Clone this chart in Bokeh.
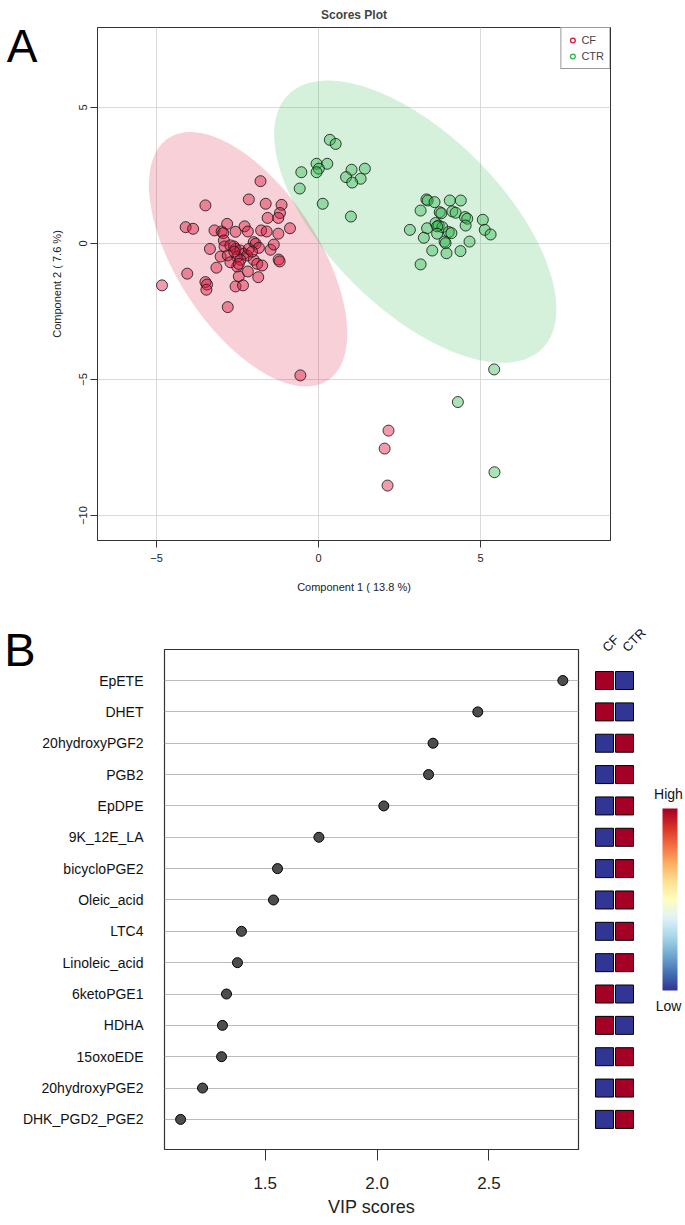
import numpy as np
from math import pi
from bokeh.plotting import figure
from bokeh.models import (Range1d, FixedTicker, Label, Legend, LegendItem, ColorBar,
                          LinearColorMapper, LinearAxis, NumeralTickFormatter)
from bokeh.layouts import column, row
from bokeh.embed import file_html
from bokeh.resources import INLINE
from bokeh.palettes import RdYlBu11

# ---------------- data: scores plot ----------------
cf_x = [-1.79, -3.49, -2.15, -1.63, -1.14, -1.19, -1.24, -1.57, -0.88, -4.10,
        -3.87, -3.21, -2.99, -2.82, -2.56, -2.28, -2.18, -1.77, -1.60, -1.24,
        -2.94, -3.35, -2.92, -2.90, -2.61, -2.00, -1.94, -1.84, -1.48, -1.38,
        -3.02, -2.80, -2.56, -2.41, -2.31, -2.51, -2.20, -2.41, -2.00, -1.89,
        -1.74, -1.23, -1.20, -3.15, -4.05, -3.49, -3.44, -3.46, -4.83, -2.51,
        -2.46, -2.18, -1.86, -2.56, -2.33, -2.80, -2.72, -2.72, -2.46, -2.15,
        -2.05, -2.60, -0.56, 2.16, 2.04, 2.13]
cf_y = [2.29, 1.40, 1.62, 1.46, 1.42, 1.12, 0.94, 0.94, 0.56, 0.60,
        0.54, 0.48, 0.44, 0.72, 0.43, 0.63, 0.44, 0.48, 0.44, 0.36,
        0.38, -0.20, 0.11, -0.11, -0.11, 0.05, -0.01, -0.16, -0.23, -0.04,
        -0.48, -0.44, -0.20, -0.26, -0.38, -0.50, -0.44, -0.60, -0.60, -0.75,
        -0.81, -0.59, -0.66, -0.89, -1.11, -1.42, -1.51, -1.70, -1.54, -0.85,
        -1.21, -1.03, -1.24, -1.58, -1.54, -2.34, -0.69, -0.07, -0.75, -0.20,
        -0.30, -0.30, -4.85, -6.88, -7.54, -8.90]
ctr_x = [0.35, 0.53, -0.06, 0.27, 0.01, -0.06, -0.53, -0.58, 1.02, 1.43,
         0.85, 1.30, 1.04, 0.13, 1.00,
         3.33, 3.37, 3.58, 4.05, 4.39, 3.15, 3.74, 3.79, 4.13, 4.23,
         4.52, 4.59, 5.07, 4.54, 2.82, 3.35, 3.61, 3.71, 3.82, 3.66,
         5.13, 5.31, 3.25, 3.66, 4.02, 4.10, 3.89, 3.92, 4.66, 3.51,
         3.95, 4.38, 3.15, 5.42, 4.30, 5.43]
ctr_y = [3.81, 3.66, 2.93, 2.93, 2.75, 2.62, 2.62, 2.02, 2.71, 2.75,
         2.44, 2.38, 2.24, 1.46, 0.99,
         1.62, 1.58, 1.52, 1.58, 1.58, 1.21, 1.15, 1.11, 1.18, 1.13,
         0.97, 0.91, 0.87, 0.66, 0.50, 0.56, 0.75, 0.66, 0.60, 0.63,
         0.50, 0.33, 0.21, 0.36, 0.42, 0.38, 0.07, 0.01, 0.07, -0.26,
         -0.36, -0.28, -0.77, -4.63, -5.83, -8.41]
x_ticks = [-5, 0, 5]
y_ticks = [-10, -5, 0, 5]

# ---------------- data: VIP scores ----------------
vip_names = ["EpETE", "DHET", "20hydroxyPGF2", "PGB2", "EpDPE", "9K_12E_LA",
             "bicycloPGE2", "Oleic_acid", "LTC4", "Linoleic_acid", "6ketoPGE1",
             "HDHA", "15oxoEDE", "20hydroxyPGE2", "DHK_PGD2_PGE2"]
vip_scores = [2.83, 2.45, 2.25, 2.23, 2.03, 1.74, 1.555, 1.537, 1.394, 1.376,
              1.327, 1.309, 1.305, 1.22, 1.122]
cf_high = [1, 1, 0, 0, 0, 0, 0, 0, 0, 0, 1, 1, 0, 0, 0]
ctr_high = [0, 0, 1, 1, 1, 1, 1, 1, 1, 1, 0, 0, 1, 1, 1]
groups = ["CF", "CTR"]
vip_ticks = [1.5, 2.0, 2.5]

FONT = "Liberation Sans"
RED = "#DC143C"
GREEN = "#2EB84C"
HI = "#A50026"
LO = "#313695"


def conf_ellipse(x, y, level=0.95, n=240):
    x = np.asarray(x, float)
    y = np.asarray(y, float)
    cov = np.cov(x, y)
    vals, vecs = np.linalg.eigh(cov)
    chi2 = -2.0 * np.log(1.0 - level)
    t = np.linspace(0, 2 * np.pi, n)
    circ = np.vstack([np.cos(t), np.sin(t)])
    pts = vecs @ (np.sqrt(vals * chi2)[:, None] * circ)
    return x.mean() + pts[0], y.mean() + pts[1]


def letter_axis(text, tick, size, standoff):
    ax = LinearAxis(ticker=FixedTicker(ticks=[tick]),
                    major_label_overrides={tick: text})
    ax.axis_line_color = None
    ax.major_tick_line_color = None
    ax.minor_tick_line_color = None
    ax.major_tick_in = 0
    ax.major_tick_out = 0
    ax.major_label_standoff = standoff
    ax.major_label_text_font = FONT
    ax.major_label_text_font_size = size
    ax.major_label_text_color = "black"
    return ax


# ---------------- panel A ----------------
xr1 = Range1d(-6.82, 9.01)
yr1 = Range1d(-10.92, 7.94)
p1 = figure(frame_width=513, frame_height=513, min_border_left=97, min_border_right=75,
            min_border_top=27, min_border_bottom=60,
            x_range=xr1, y_range=yr1,
            output_backend="svg", toolbar_location=None, title="Scores Plot")
p1.title.align = "center"
p1.title.text_font = FONT
p1.title.text_font_size = "12px"
p1.title.text_font_style = "bold"
p1.title.standoff = 11
p1.outline_line_color = "#333333"
p1.outline_line_width = 1
for ax in (p1.xaxis, p1.yaxis):
    ax.axis_line_color = "#333333"
    ax.major_tick_line_color = "#333333"
    ax.minor_tick_line_color = None
    ax.major_tick_in = 0
    ax.major_tick_out = 7
    ax.major_label_text_font = FONT
    ax.major_label_text_font_size = "11px"
    ax.major_label_text_color = "#222222"
    ax.axis_label_text_font = FONT
    ax.axis_label_text_font_size = "11px"
    ax.axis_label_text_font_style = "normal"
    ax.axis_label_text_color = "#222222"
p1.xaxis.ticker = FixedTicker(ticks=x_ticks)
p1.yaxis.ticker = FixedTicker(ticks=y_ticks)
p1.xaxis.axis_label = "Component 1 ( 13.8 %)"
p1.yaxis.axis_label = "Component 2 ( 7.6 %)"
p1.yaxis.major_label_orientation = "vertical"
p1.xaxis.major_label_standoff = 6
p1.xaxis.axis_label_standoff = 16
p1.yaxis.major_label_standoff = 3
p1.yaxis.axis_label_standoff = 14
p1.grid.grid_line_color = "#DADADA"

ex, ey = conf_ellipse(cf_x, cf_y)
p1.patch(ex, ey, fill_color=RED, fill_alpha=0.2, line_color=None)
gx, gy = conf_ellipse(ctr_x, ctr_y)
p1.patch(gx, gy, fill_color=GREEN, fill_alpha=0.2, line_color=None)

p1.scatter(cf_x, cf_y, size=11, fill_color=RED, fill_alpha=0.42,
           line_color="#1a1a1a", line_width=1, line_alpha=0.85)
p1.scatter(ctr_x, ctr_y, size=11, fill_color=GREEN, fill_alpha=0.4,
           line_color="#1a1a1a", line_width=1, line_alpha=0.85)

leg_cf = p1.scatter(x=[np.nan], y=[np.nan], size=6, fill_alpha=0, line_color=RED, line_width=1.3)
leg_ctr = p1.scatter(x=[np.nan], y=[np.nan], size=6, fill_alpha=0, line_color=GREEN, line_width=1.3)
legend = Legend(items=[LegendItem(label=groups[0], renderers=[leg_cf]),
                       LegendItem(label=groups[1], renderers=[leg_ctr])],
                location="top_right", margin=0, padding=5, spacing=2,
                label_height=14, glyph_height=14, glyph_width=12, label_standoff=3,
                label_text_font=FONT, label_text_font_size="11px",
                border_line_color="#333333", border_line_width=1,
                background_fill_alpha=1)
p1.add_layout(legend)
# panel letter "A" as an outer left axis label near the top of the frame
a_tick = yr1.end - 18.5 / 27.2
p1.add_layout(letter_axis("A", a_tick, "46px", 10), "left")

# ---------------- panel B ----------------
n = len(vip_names)
ypos = list(range(n, 0, -1))
yr = Range1d(0.04, n + 0.99)
p2 = figure(frame_width=414, frame_height=500, min_border_left=164, min_border_right=8,
            min_border_top=49, min_border_bottom=74,
            x_range=Range1d(1.05, 2.90), y_range=yr,
            output_backend="svg", toolbar_location=None)
p2.outline_line_color = "#333333"
p2.outline_line_width = 1.2
p2.xgrid.grid_line_color = None
p2.ygrid.ticker = FixedTicker(ticks=ypos)
p2.ygrid.grid_line_color = "#BBBBBB"
p2.yaxis.ticker = FixedTicker(ticks=ypos)
p2.yaxis.major_label_overrides = {y: nm for y, nm in zip(ypos, vip_names)}
p2.yaxis.major_tick_line_color = None
p2.yaxis.minor_tick_line_color = None
p2.yaxis.major_tick_out = 0
p2.yaxis.major_tick_in = 0
p2.yaxis.axis_line_color = None
p2.yaxis.major_label_standoff = 21
p2.yaxis.major_label_text_font = FONT
p2.yaxis.major_label_text_font_size = "14px"
p2.yaxis.major_label_text_color = "#111111"
p2.xaxis.ticker = FixedTicker(ticks=vip_ticks)
p2.xaxis.formatter = NumeralTickFormatter(format="0.0")
p2.xaxis.minor_tick_line_color = None
p2.xaxis.major_tick_in = 0
p2.xaxis.major_tick_out = 11
p2.xaxis.major_tick_line_color = "#333333"
p2.xaxis.axis_line_color = "#333333"
p2.xaxis.major_label_standoff = 16
p2.xaxis.major_label_text_font = FONT
p2.xaxis.major_label_text_font_size = "17px"
p2.xaxis.major_label_text_color = "#222222"
p2.xaxis.axis_label = "VIP scores"
p2.xaxis.axis_label_standoff = 5
p2.xaxis.axis_label_text_font = FONT
p2.xaxis.axis_label_text_font_size = "18px"
p2.xaxis.axis_label_text_font_style = "normal"
p2.xaxis.axis_label_text_color = "#222222"
p2.scatter(vip_scores, ypos, size=10, fill_color="#4D4D4D", line_color="black", line_width=1)
p2.add_layout(letter_axis("B", yr.end - 1e-6, "47px", -16), "left")

p3 = figure(frame_width=99, frame_height=500, min_border_left=0, min_border_right=0,
            min_border_top=49, min_border_bottom=74,
            x_range=Range1d(-0.9, 4.05), y_range=yr, x_axis_location="above",
            output_backend="svg", toolbar_location=None)
p3.outline_line_color = None
p3.grid.grid_line_color = None
p3.yaxis.visible = False
p3.xaxis.ticker = FixedTicker(ticks=[0, 1])
p3.xaxis.major_label_overrides = {0: groups[0], 1: groups[1]}
p3.xaxis.major_label_orientation = pi / 4
p3.xaxis.axis_line_color = None
p3.xaxis.major_tick_line_color = None
p3.xaxis.minor_tick_line_color = None
p3.xaxis.major_tick_out = 0
p3.xaxis.major_label_standoff = 0
p3.xaxis.major_label_text_font = FONT
p3.xaxis.major_label_text_font_size = "13px"
p3.xaxis.major_label_text_color = "#111111"

hx = [0] * n + [1] * n
hy = ypos + ypos
hc = [HI if v else LO for v in cf_high] + [HI if v else LO for v in ctr_high]
p3.rect(hx, hy, width=18, height=18, width_units="screen", height_units="screen",
        fill_color=hc, line_color="black", line_width=1)

base = list(RdYlBu11)
if int(base[0][1:3], 16) > int(base[0][5:7], 16):   # make palette run low(blue) -> high(red)
    base = base[::-1]
try:
    from bokeh.palettes import interp_palette
    pal = list(interp_palette(base, 256))
except Exception:
    pal = base
mapper = LinearColorMapper(palette=pal, low=0, high=1)
cb = ColorBar(color_mapper=mapper, location=(76, 159), width=15, height=182,
              orientation="vertical", padding=0, margin=0,
              ticker=FixedTicker(ticks=[]), major_tick_line_color=None,
              minor_tick_line_color=None, bar_line_color=None,
              border_line_color=None, background_fill_alpha=0)
p3.add_layout(cb)
p3.add_layout(Label(x=82, y=356, x_units="screen", y_units="screen", text="High",
                    text_font=FONT, text_font_size="14px", text_align="center",
                    text_baseline="middle", text_color="#111111"))
p3.add_layout(Label(x=82, y=144, x_units="screen", y_units="screen", text="Low",
                    text_font=FONT, text_font_size="14px", text_align="center",
                    text_baseline="middle", text_color="#111111"))

layout = column(p1, row(p2, p3))
open("out.html", "w").write(file_html(layout, INLINE))
